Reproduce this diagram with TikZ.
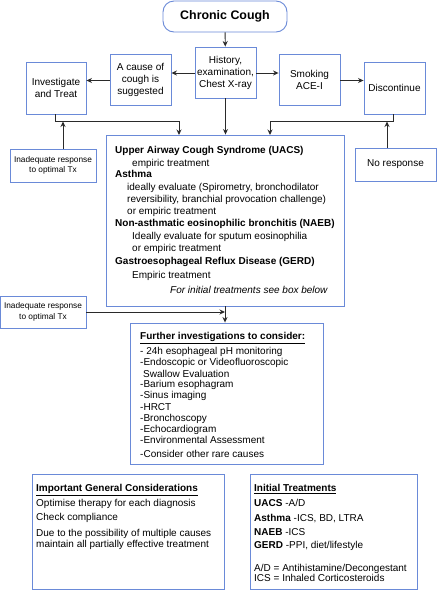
\documentclass[tikz,border=0pt]{standalone}
\usepackage{fontspec}
\setmainfont{Liberation Sans}
\usetikzlibrary{arrows.meta}
\definecolor{boxblue}{HTML}{6A8AD8}
\definecolor{linegray}{HTML}{2A2A2A}
\tikzset{
  bx/.style={draw=boxblue, line width=0.9pt, fill=white, inner sep=0pt, align=center, font=\fontsize{10}{12}\selectfont},
  conn/.style={draw=linegray, line width=0.9pt},
  arr/.style={conn, -{Stealth[length=5.5pt,width=5pt]}},
  txt/.style={inner sep=0pt, align=left, anchor=north west},
}
\begin{document}
\begin{tikzpicture}[x=1pt,y=-1pt]
\useasboundingbox[fill=white] (0,0) rectangle (442,590);

% top row
\node[bx, rounded corners=11pt, minimum width=124pt, minimum height=31pt, font=\fontsize{12.4}{15}\selectfont\bfseries] (cc) at (225,16.5) {Chronic Cough};
\node[bx, minimum width=61pt, minimum height=51pt] (hist) at (225.5,72.5) {History,\\examination,\\Chest X-ray};
\node[bx, minimum width=61pt, minimum height=51pt] (cause) at (140.5,80) {A cause of\\cough is\\suggested};
\node[bx, minimum width=60pt, minimum height=52pt] (inv) at (56,88) {Investigate\\and Treat};
\node[bx, minimum width=61pt, minimum height=51pt] (smk) at (309.5,80) {Smoking\\ACE-I};
\node[bx, minimum width=61pt, minimum height=52pt] (disc) at (394.5,88) {Discontinue};

% side boxes
\node[bx, minimum width=86pt, minimum height=33pt, font=\fontsize{8.3}{10.5}\selectfont] (inad1) at (53,165.5) {Inadequate response\\to optimal Tx};
\node[bx, minimum width=81pt, minimum height=33pt] (noresp) at (395.5,164.5) {No response};
\node[bx, minimum width=86pt, minimum height=32pt, font=\fontsize{8.3}{10.5}\selectfont] (inad2) at (43,312) {Inadequate response\\to optimal Tx};

% main box
\node[bx, minimum width=238pt, minimum height=171pt] (main) at (225,220.5) {};
\node[txt, font=\fontsize{10}{12.3}\selectfont] (maintxt) at (115,146) {%
\textbf{Upper Airway Cough Syndrome (UACS)}\\[0.3pt]
\hspace*{17pt}empiric treatment\\[-0.6pt]
\textbf{Asthma}\\[0pt]
\hspace*{12pt}ideally evaluate (Spirometry, bronchodilator\\[0pt]
\hspace*{12pt}reversibility, branchial provocation challenge)\\[-0.3pt]
\hspace*{12pt}or empiric treatment\\[0.3pt]
\textbf{Non-asthmatic eosinophilic bronchitis (NAEB)}\\[0.7pt]
\hspace*{17pt}Ideally evaluate for sputum eosinophilia\\[-0.6pt]
\hspace*{17pt}or empiric treatment\\[1pt]
\textbf{Gastroesophageal Reflux Disease (GERD)}\\[1.1pt]
\hspace*{17pt}Empiric treatment\\[2.7pt]
\hspace*{55pt}\textit{For initial treatments see box below}};

% further investigations
\node[bx, minimum width=193pt, minimum height=141pt] (fur) at (226.5,393.5) {};
\node[txt, font=\fontsize{10}{11.3}\selectfont] (furtxt) at (140,332) {%
\textbf{\underline{Further investigations to consider:}}\\[2.7pt]
- 24h esophageal pH monitoring\\[-0.3pt]
-Endoscopic or Videofluoroscopic\\[0.7pt]
\hspace*{3pt}Swallow Evaluation\\[-1pt]
-Barium esophagram\\[-0.3pt]
-Sinus imaging\\[0.4pt]
-HRCT\\[-0.3pt]
-Bronchoscopy\\[0pt]
-Echocardiogram\\[-0.3pt]
-Environmental Assessment\\[2pt]
-Consider other rare causes};

% bottom boxes
\node[bx, minimum width=192pt, minimum height=115pt] (imp) at (128,531.5) {};
\node[txt, font=\fontsize{10}{11.7}\selectfont] (imptxt) at (36,484.3) {%
\textbf{\underline{Important General Considerations}}\\[2.6pt]
Optimise therapy for each diagnosis\\[2.7pt]
Check compliance\\[3.9pt]
Due to the possibility of multiple causes\\[0pt]
maintain all partially effective treatment};
\node[bx, minimum width=167pt, minimum height=115pt] (ini) at (333.5,531.5) {};
\node[txt, font=\fontsize{10}{11.5}\selectfont] (initxt) at (254,484.3) {%
\textbf{\underline{Initial Treatments}}\\[2.8pt]
\textbf{UACS} -A/D\\[3.5pt]
\textbf{Asthma} -ICS, BD, LTRA\\[2.5pt]
\textbf{NAEB} -ICS\\[1.9pt]
\textbf{GERD} -PPI, diet/lifestyle\\[11.1pt]
A/D = Antihistamine/Decongestant\\[-1.5pt]
ICS = Inhaled Corticosteroids};

% connectors
\draw[arr] (cc) -- (hist);
\draw[arr] (hist.west |- 0,73) -- (cause.east |- 0,73);
\draw[arr] (hist.east |- 0,73) -- (smk.west |- 0,73);
\draw[arr] (cause.west |- 0,80.5) -- (inv.east |- 0,80.5);
\draw[arr] (smk.east |- 0,80.5) -- (disc.west |- 0,80.5);
\coordinate (jl) at (55,121);
\coordinate (jr) at (393,121);
\draw[arr] (inv.south -| jl) -- (jl) -- (179,121) -- (179,135);
\draw[arr] (hist) -- (main.north -| hist);
\draw[arr] (disc.south -| jr) -- (jr) -- (270,121) -- (270,135);
\draw[arr] (inad1.north -| 63,0) -- (63,121.5);
\draw[arr] (noresp.north -| 387,0) -- (387,121.5);
\coordinate (jm) at (225,312);
\draw[arr] (main.south -| jm) -- (fur.north -| jm);
\draw[arr] (inad2.east |- jm) -- (jm);
\end{tikzpicture}
\end{document}
